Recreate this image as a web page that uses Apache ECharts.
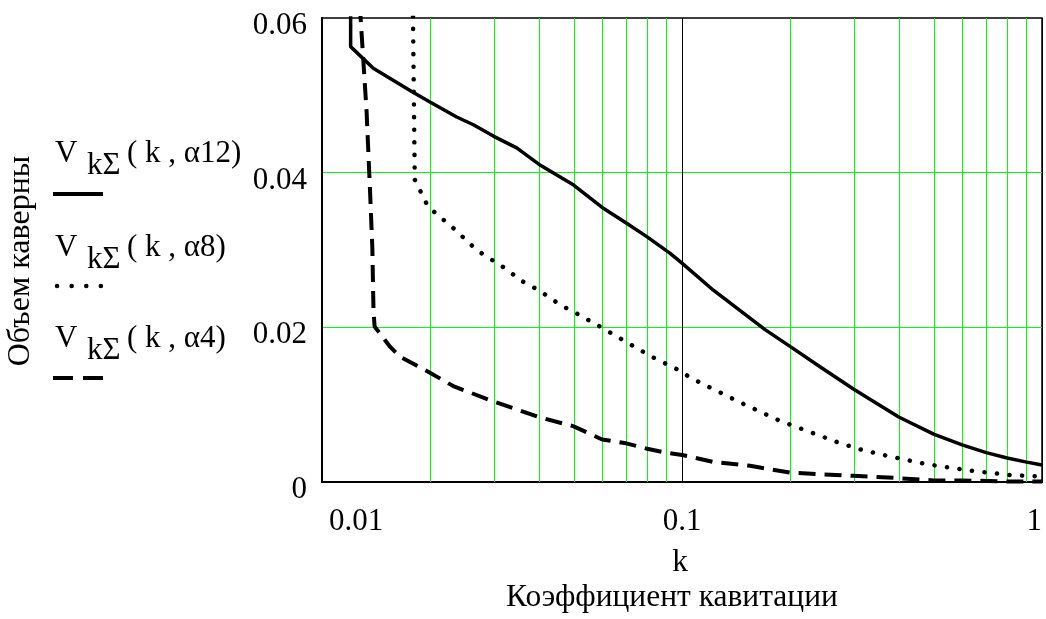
<!DOCTYPE html>
<html>
<head>
<meta charset="utf-8">
<script src="https://cdn.jsdelivr.net/npm/echarts@6/dist/echarts.min.js"></script>
<style>
html, body { margin: 0; padding: 0; background: #fff; }
#chart { width: 1046px; height: 619px; }
</style>
</head>
<body>
<div id="chart"></div>
<script>
// tick labels
const xTickLabels = ['0.01', '0.1', '1'];
const yTickLabels = ['0', '0.02', '0.04', '0.06'];
// green minor grid lines on the log axis
const gridK = [0.02, 0.03, 0.04, 0.05, 0.06, 0.07, 0.08, 0.09, 0.2, 0.3, 0.4, 0.5, 0.6, 0.7, 0.8, 0.9];

// V(k, α12) - solid
const k12 = [0.01201, 0.01201, 0.01388, 0.01775, 0.02, 0.02367, 0.02633, 0.03, 0.03474, 0.04, 0.05, 0.06, 0.07, 0.08, 0.0925, 0.1, 0.1222, 0.1701, 0.2, 0.2417, 0.3, 0.4, 0.5, 0.6, 0.7, 0.8, 0.9, 1.0];
const v12 = [0.075, 0.0563, 0.0535, 0.0505, 0.0491, 0.0472, 0.0462, 0.0447, 0.0432, 0.0411, 0.0384, 0.0355, 0.0335, 0.0317, 0.0296, 0.0283, 0.0248, 0.0197, 0.0175, 0.0149, 0.0120, 0.0084, 0.0062, 0.0048, 0.0038, 0.0031, 0.0026, 0.0022];
// V(k, α8) - dotted
const k8 = [0.0178, 0.0181, 0.0197, 0.0232, 0.0266, 0.0287, 0.0312, 0.0362, 0.04, 0.0463, 0.0505, 0.0597, 0.07, 0.0824, 0.0976, 0.1064, 0.1235, 0.1449, 0.1851, 0.2197, 0.2719, 0.3189, 0.3783, 0.4783, 0.6243, 0.815, 1.0];
const v8 = [0.07, 0.0391, 0.0356, 0.0328, 0.0302, 0.0291, 0.0281, 0.0259, 0.0248, 0.0228, 0.0219, 0.0200, 0.0181, 0.0162, 0.0145, 0.0134, 0.0119, 0.0103, 0.0080, 0.0067, 0.0051, 0.0041, 0.0033, 0.0023, 0.0015, 0.0009, 0.0007];
// V(k, α4) - dashed
const k4 = [0.0126, 0.0133, 0.0136, 0.0138, 0.0139, 0.0140, 0.01545, 0.01647, 0.02, 0.02315, 0.03, 0.04, 0.05, 0.06, 0.07, 0.08, 0.09, 0.1, 0.1222, 0.1546, 0.2, 0.3, 0.4, 0.5, 0.6, 0.83, 1.0];
const v4 = [0.065, 0.0479, 0.0375, 0.0302, 0.0222, 0.0201, 0.0175, 0.0162, 0.0141, 0.0124, 0.0104, 0.0084, 0.0072, 0.0055, 0.0050, 0.0043, 0.0038, 0.0035, 0.0026, 0.0021, 0.0012, 0.0008, 0.0005, 0.0002, 0.0002, 0.00005, 0.00005];

const legendMain = ['V', 'V', 'V'];
const legendSub = ['kΣ', 'kΣ', 'kΣ'];
const legendArgs = ['( k , α12)', '( k , α8)', '( k , α4)'];

const FONT = '"Liberation Serif", "Times New Roman", serif';
const zip = (xs, ys) => xs.map((x, i) => [x, ys[i]]);

const lineStyles = [
    {color: '#000', width: 3.5, type: 'solid'},
    {color: '#000', width: 4.5, type: [0.1, 12.5], cap: 'round'},
    {color: '#000', width: 4, type: [17, 9], cap: 'butt'}
];

// legend drawn on the left: text line, sample line under it
const legendBase = [154, 248, 339];
const legendSample = [194, 286, 378];
const legendGraphic = [];
for (let i = 0; i < 3; i++) {
    legendGraphic.push({
        type: 'text', x: 55, y: legendBase[i],
        style: {text: legendMain[i], fill: '#000', fontSize: 31, fontFamily: FONT, align: 'left', verticalAlign: 'middle'}
    });
    legendGraphic.push({
        type: 'text', x: 87, y: legendBase[i] + 12,
        style: {text: legendSub[i], fill: '#000', fontSize: 31, fontFamily: FONT, align: 'left', verticalAlign: 'middle'}
    });
    legendGraphic.push({
        type: 'text', x: 127, y: legendBase[i],
        style: {text: legendArgs[i], fill: '#000', fontSize: 31, fontFamily: FONT, align: 'left', verticalAlign: 'middle'}
    });
}
legendGraphic.push({
    type: 'line', shape: {x1: 53, y1: legendSample[0], x2: 103, y2: legendSample[0]},
    style: {stroke: '#000', lineWidth: 4}
});
legendGraphic.push({
    type: 'line', shape: {x1: 57, y1: legendSample[1], x2: 103, y2: legendSample[1]},
    style: {stroke: '#000', lineWidth: 4.5, lineDash: [0.1, 14.5], lineCap: 'round'}
});
legendGraphic.push({
    type: 'line', shape: {x1: 53, y1: legendSample[2], x2: 103, y2: legendSample[2]},
    style: {stroke: '#000', lineWidth: 4, lineDash: [20, 10]}
});

// vertical green grid line at each minor k value, placed through the axis scale
function renderGridLine(params, api) {
    const top = api.coord([api.value(0), 0.06]);
    const bottom = api.coord([api.value(0), 0]);
    const x = Math.round(top[0]) + 0.5;
    return {
        type: 'line',
        shape: {x1: x, y1: top[1], x2: x, y2: bottom[1]},
        style: {stroke: '#00ff00', lineWidth: 1}
    };
}

const chart = echarts.init(document.getElementById('chart'), null, {renderer: 'canvas'});
const option = {
    animation: false,
    backgroundColor: '#fff',
    grid: {
        left: 322, right: 4, top: 18, bottom: 137,
        show: true, borderColor: '#000', borderWidth: 1.5,
        containLabel: false, outerBoundsMode: 'none'
    },
    xAxis: {
        type: 'log',
        logBase: 10,
        min: 0.01,
        max: 1,
        axisLine: {show: true, onZero: false, lineStyle: {color: '#000', width: 2}},
        axisTick: {show: false},
        axisLabel: {
            color: '#000', fontFamily: FONT, fontSize: 31, margin: 24,
            alignMinLabel: 'left', alignMaxLabel: 'right',
            formatter: function (value) {
                const idx = Math.round(Math.log10(value)) + 2;
                return idx === 0 ? '{first|' + xTickLabels[idx] + '}' : xTickLabels[idx];
            },
            rich: {first: {padding: [0, 0, 0, 7], fontSize: 31, fontFamily: FONT, color: '#000'}}
        },
        splitLine: {show: true, lineStyle: {color: '#000', width: 1}},
        name: '{k|k}\n{t|Коэффициент кавитации}',
        nameLocation: 'middle',
        nameGap: 63,
        nameMoveOverlap: false,
        nameTextStyle: {
            color: '#000', fontFamily: FONT, fontSize: 31.5, padding: [0, 20, 0, 0],
            rich: {
                k: {fontSize: 31.5, fontFamily: FONT, color: '#000', lineHeight: 35, padding: [0, 0, 0, 16]},
                t: {fontSize: 31.5, fontFamily: FONT, color: '#000', lineHeight: 35}
            }
        }
    },
    yAxis: {
        type: 'value',
        min: 0,
        max: 0.06,
        interval: 0.02,
        axisLine: {show: true, lineStyle: {color: '#000', width: 2}},
        axisTick: {show: false},
        axisLabel: {
            color: '#000', fontFamily: FONT, fontSize: 31, margin: 15,
            verticalAlign: 'top', lineHeight: 16,
            formatter: function (value) {
                return yTickLabels[Math.round(value / 0.02)];
            }
        },
        splitLine: {show: true, showMinLine: false, showMaxLine: false, lineStyle: {color: '#00ff00', width: 1}},
        name: 'Объем каверны',
        nameLocation: 'middle',
        nameRotate: 90,
        nameGap: 285,
        nameMoveOverlap: false,
        nameTextStyle: {color: '#000', fontFamily: FONT, fontSize: 32, padding: [0, 22, 0, 0]}
    },
    graphic: legendGraphic,
    series: [
        {
            type: 'custom',
            data: gridK.map(k => [k]),
            encode: {x: 0},
            z: 1,
            silent: true,
            clip: true,
            renderItem: renderGridLine
        },
        {name: 'α12', type: 'line', data: zip(k12, v12), showSymbol: false, symbol: 'none', z: 3, clip: true, lineStyle: lineStyles[0]},
        {name: 'α8', type: 'line', data: zip(k8, v8), showSymbol: false, symbol: 'none', z: 3, clip: true, lineStyle: lineStyles[1]},
        {name: 'α4', type: 'line', data: zip(k4, v4), showSymbol: false, symbol: 'none', z: 3, clip: true, lineStyle: lineStyles[2]}
    ]
};
chart.setOption(option);
</script>
</body>
</html>
